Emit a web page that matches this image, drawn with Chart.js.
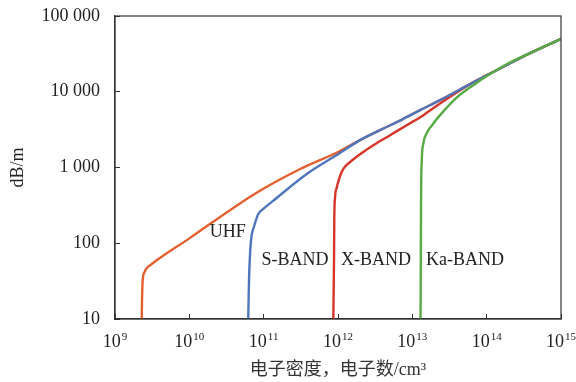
<!DOCTYPE html>
<html>
<head>
<meta charset="utf-8">
<script src="https://cdn.jsdelivr.net/npm/chart.js@4.4.1/dist/chart.umd.min.js"></script>
<style>
	body { margin: 0; background: #fff; }
</style>
</head>
<body>
<canvas id="myChart" width="576" height="382"></canvas>
<script>
// -- DATA --------------------------------------//
const uhfN = [2.29e9, 2.31e9, 2.36e9, 2.5e9, 2.67e9, 3.12e9, 1.0e10, 4.8e10, 1.1e11, 3.1e11, 1.0e12, 1.98e12, 3.67e12, 6.82e12, 1.27e13, 2.36e13, 5.97e13, 1.51e14, 3.83e14, 1e15];
const uhfDb = [10, 17.8, 32.7, 41.7, 46.7, 53.2, 116, 336, 556, 955, 1600, 2300, 3110, 4160, 5720, 7740, 12600, 20300, 32300, 50000];

const sBandN = [6.2e10, 6.35e10, 6.6e10, 6.9e10, 7.4e10, 8.4e10, 9.9e10, 1.35e11, 3.8e11, 1.06e12, 1.98e12, 3.67e12, 6.82e12, 1.27e13, 2.36e13, 5.97e13, 1.51e14, 3.83e14, 1e15];
const sBandDb = [10, 32.7, 81, 128, 165, 240, 285, 365, 820, 1550, 2300, 3110, 4160, 5720, 7740, 12600, 20300, 32300, 50000];

const xBandN = [8.65e11, 8.84e11, 8.91e11, 9.12e11, 9.61e11, 1.01e12, 1.06e12, 1.18e12, 1.45e12, 1.98e12, 2.99e12, 5.01e12, 8.4e12, 1.41e13, 2.36e13, 5.97e13, 1.51e14, 3.83e14, 1e15];
const xBandDb = [10, 60, 202, 400, 540, 650, 760, 960, 1178, 1500, 1970, 2670, 3620, 4910, 7020, 12600, 20300, 32300, 50000];

const kaBandN = [1.29e13, 1.30e13, 1.31e13, 1.34e13, 1.41e13, 1.56e13, 1.84e13, 2.36e13, 3.95e13, 6.61e13, 1.11e14, 1.86e14, 3.83e14, 1e15];
const kaBandDb = [10, 60, 371, 1250, 2100, 2840, 3620, 4910, 8360, 12200, 17100, 23100, 32300, 50000];

const bandNames = ['UHF', 'S-BAND', 'X-BAND', 'Ka-BAND'];
const labelN = [3.3e10, 2.64e11, 3.24e12, 5.1e13];
const labelDb = [138, 60, 60, 60];

const xTicks = [1e9, 1e10, 1e11, 1e12, 1e13, 1e14, 1e15];
const xTickExp = ['9', '10', '11', '12', '13', '14', '15'];
const yTicks = [10, 100, 1000, 10000, 100000];
const yTickLabels = ['10', '100', '1 000', '10 000', '100 000'];

const serif = "'Liberation Serif', 'Times New Roman', 'Noto Sans CJK SC', serif";

function toPoints(xs, ys) {
	return xs.map((x, i) => ({ x: x, y: ys[i] }));
}

// frame around the plot area
const framePlugin = {
	id: 'frame',
	afterDraw(chart) {
		const a = chart.chartArea;
		const c = chart.ctx;
		c.save();
		c.strokeStyle = '#333';
		c.lineWidth = 1.2;
		c.strokeRect(a.left, a.top, a.right - a.left, a.bottom - a.top);
		c.restore();
	}
};

// x tick labels as 10 with a raised exponent
const powerLabelPlugin = {
	id: 'powerLabels',
	afterDraw(chart) {
		const c = chart.ctx;
		const xs = chart.scales.x;
		const base = chart.chartArea.bottom + 28;
		c.save();
		c.fillStyle = '#222';
		c.textBaseline = 'alphabetic';
		c.textAlign = 'left';
		xTicks.forEach((v, i) => {
			c.font = '18px ' + serif;
			const w1 = c.measureText('10').width;
			c.font = '11px ' + serif;
			const w2 = c.measureText(xTickExp[i]).width;
			const left = xs.getPixelForValue(v) - (w1 + w2 + 1) / 2;
			c.font = '18px ' + serif;
			c.fillText('10', left, base);
			c.font = '11px ' + serif;
			c.fillText(xTickExp[i], left + w1 + 1, base - 7);
		});
		c.restore();
	}
};

// band names written inside the plot
const bandLabelPlugin = {
	id: 'bandLabels',
	afterDatasetsDraw(chart) {
		const c = chart.ctx;
		const xs = chart.scales.x;
		const ys = chart.scales.y;
		c.save();
		c.font = '18px ' + serif;
		c.fillStyle = '#222';
		c.textAlign = 'center';
		c.textBaseline = 'middle';
		bandNames.forEach((name, i) => {
			c.fillText(name, xs.getPixelForValue(labelN[i]), ys.getPixelForValue(labelDb[i]));
		});
		c.restore();
	}
};

const ctx = document.getElementById('myChart').getContext('2d');

const myChart = new Chart(ctx, {
	type: 'scatter',
	data: {
		datasets: [
			{ label: bandNames[0], data: toPoints(uhfN, uhfDb), borderColor: '#E5602F', order: 4 },
			{ label: bandNames[1], data: toPoints(sBandN, sBandDb), borderColor: '#4F76BD', order: 2 },
			{ label: bandNames[2], data: toPoints(xBandN, xBandDb), borderColor: '#D8352A', order: 3 },
			{ label: bandNames[3], data: toPoints(kaBandN, kaBandDb), borderColor: '#56AB45', order: 1 },
		],
	},
	options: {
		responsive: false,
		animation: false,
		showLine: true,
		layout: {
			padding: { left: 0, right: 15, top: 16, bottom: 0 }
		},
		elements: {
			point: { radius: 0 },
			line: { borderWidth: 2.4, cubicInterpolationMode: 'monotone', fill: false }
		},
		plugins: {
			legend: { display: false },
			tooltip: { enabled: false },
		},
		scales: {
			x: {
				type: 'logarithmic',
				min: 1e9,
				max: 1e15,
				afterBuildTicks: (s) => { s.ticks = xTicks.map(v => ({ value: v })); },
				afterFit: (s) => { s.height = 63; s.paddingLeft = 0; s.paddingRight = 0; },
				ticks: {
					autoSkip: false,
					maxRotation: 0,
					callback: () => '',
				},
				grid: {
					drawOnChartArea: false,
					tickLength: -5,
					color: '#333',
				},
				border: { color: '#333', width: 1.2 },
				title: {
					display: true,
					text: '电子密度，电子数/cm³',
					color: '#333',
					font: { family: serif, size: 18 },
					padding: { top: 0, bottom: 1 },
				},
			},
			y: {
				type: 'logarithmic',
				min: 10,
				max: 100000,
				afterBuildTicks: (s) => { s.ticks = yTicks.map(v => ({ value: v })); },
				afterFit: (s) => { s.width = 115; s.paddingTop = 0; s.paddingBottom = 0; },
				ticks: {
					autoSkip: false,
					padding: 20,
					color: '#222',
					font: { family: serif, size: 18 },
					callback: (v) => yTickLabels[yTicks.indexOf(v)],
				},
				grid: {
					drawOnChartArea: false,
					tickLength: -5,
					color: '#333',
				},
				border: { color: '#333', width: 1.2 },
				title: {
					display: true,
					text: 'dB/m',
					color: '#222',
					font: { family: serif, size: 18 },
					padding: { top: 7, bottom: 0 },
				},
			},
		},
	},
	plugins: [framePlugin, powerLabelPlugin, bandLabelPlugin],
});
</script>
</body>
</html>
